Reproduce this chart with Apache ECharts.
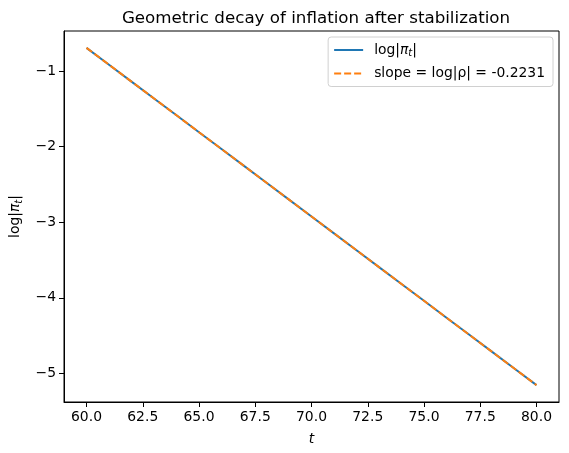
<!DOCTYPE html>
<html>
<head>
<meta charset="utf-8">
<script src="https://cdn.jsdelivr.net/npm/echarts@6/dist/echarts.min.js"></script>
<style>
html,body{margin:0;padding:0;background:#fff;}
#chart{width:569px;height:453px;}
</style>
</head>
<body>
<div id="chart"></div>
<script>
const tValues = [60,61,62,63,64,65,66,67,68,69,70,71,72,73,74,75,76,77,78,79,80];
const logPi = [-0.6931,-0.9163,-1.1394,-1.3626,-1.5857,-1.8089,-2.0320,-2.2551,-2.4783,-2.7014,-2.9246,-3.1477,-3.3709,-3.5940,-3.8172,-4.0403,-4.2634,-4.4866,-4.7097,-4.9329,-5.1560];
const fitLine = [-0.6931,-0.9163,-1.1394,-1.3626,-1.5857,-1.8089,-2.0320,-2.2551,-2.4783,-2.7014,-2.9246,-3.1477,-3.3709,-3.5940,-3.8172,-4.0403,-4.2634,-4.4866,-4.7097,-4.9329,-5.1560];
const xTicks = [60,62.5,65,67.5,70,72.5,75,77.5,80];
const yTicks = [-5,-4,-3,-2,-1];
const seriesNames = ['logpi','slope'];
const legendLabels = {logpi:'{n|log|}{i|π}{s|t}{n||}', slope:'slope = log|ρ| = -0.2231'};

const FONT = 'DejaVu Sans';
const FS = 13.9;
const rich = {n:{fontFamily:FONT,fontSize:FS,color:'#000'},
              i:{fontFamily:FONT,fontStyle:'italic',fontSize:FS,color:'#000'},
              s:{fontFamily:FONT,fontStyle:'italic',fontSize:10,color:'#000',verticalAlign:'bottom',padding:[7,0,0,0]}};
const chart = echarts.init(document.getElementById('chart'));
chart.setOption({
  animation:false,
  title:{text:'Geometric decay of inflation after stabilization',left:311,top:5,textAlign:'center',
    textStyle:{fontFamily:FONT,fontSize:16.7,fontWeight:'normal',color:'#000'}},
  grid:{left:64,right:10,top:31,bottom:51,show:true,borderColor:'#000',borderWidth:1,containLabel:false},
  legend:{
    orient:'vertical',right:16,top:37,
    data:seriesNames,
    formatter:n=>legendLabels[n],
    itemWidth:29,itemHeight:12,itemGap:8,
    padding:[6,8,6,5],
    itemStyle:{opacity:0},
    borderColor:'#d0d0d0',borderWidth:1,borderRadius:3,backgroundColor:'rgba(255,255,255,0.8)',
    textStyle:{fontFamily:FONT,fontSize:FS,color:'#000',padding:[0,0,0,6],rich:rich}
  },
  xAxis:{type:'value',min:59,max:81,
    name:'t',nameLocation:'middle',nameGap:30,
    nameTextStyle:{fontFamily:FONT,fontStyle:'italic',fontSize:FS,color:'#000'},
    axisLine:{show:true,lineStyle:{color:'#000'}},
    axisTick:{show:true,length:5,customValues:xTicks,lineStyle:{color:'#000'}},
    axisLabel:{customValues:xTicks,formatter:v=>v.toFixed(1),fontFamily:FONT,fontSize:FS,color:'#000',margin:8},
    splitLine:{show:false}},
  yAxis:{type:'value',min:-5.3791,max:-0.4700,
    name:'{n|log|}{i|π}{s|t}{n||}',nameLocation:'middle',nameGap:40,nameRotate:90,
    nameTextStyle:{fontFamily:FONT,fontSize:FS,color:'#000',rich:rich},
    axisLine:{show:true,lineStyle:{color:'#000'}},
    axisTick:{show:true,length:5,customValues:yTicks,lineStyle:{color:'#000'}},
    axisLabel:{customValues:yTicks,formatter:v=>String(v).replace('-','\u2212'),fontFamily:FONT,fontSize:FS,color:'#000',margin:8},
    splitLine:{show:false}},
  series:[
    {name:'logpi',type:'line',symbol:'none',data:tValues.map((t,i)=>[t,logPi[i]]),
      lineStyle:{color:'#1f77b4',width:2},itemStyle:{color:'#1f77b4'}},
    {name:'slope',type:'line',symbol:'none',data:tValues.map((t,i)=>[t,fitLine[i]]),
      lineStyle:{color:'#ff7f0e',width:2,type:[7,3]},itemStyle:{color:'#ff7f0e'}}
  ]
});
</script>
</body>
</html>
